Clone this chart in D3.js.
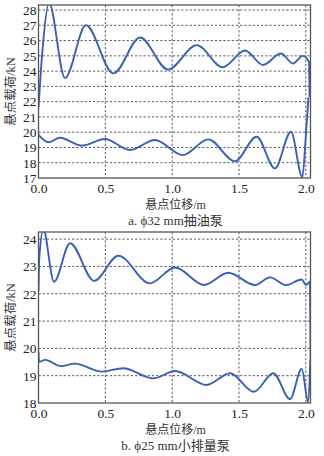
<!DOCTYPE html>
<html>
<head>
<meta charset="utf-8">
<script src="https://cdn.jsdelivr.net/npm/d3@7"></script>
<style>
  body { margin: 0; background: #fff; }
  svg { display: block; }
  .lbl { font-family: "Liberation Serif", "Noto Sans CJK SC", serif; font-size: 12px; fill: #333; }
</style>
</head>
<body>
<svg width="324" height="456"></svg>
<script>
// panel a: phi 32 mm pump
const aUpX = [0, 0.03, 0.079, 0.198, 0.355, 0.56, 0.76, 0.969, 1.184, 1.378, 1.545, 1.68, 1.814, 1.904, 1.977, 2.024, 2.028];
const aUpY = [21.6, 25.4, 28.45, 23.55, 27.0, 23.85, 26.2, 24.1, 25.7, 24.25, 25.35, 24.4, 25.15, 24.5, 25.0, 24.6, 22.3];
const aLoX = [0, 0.075, 0.16, 0.323, 0.497, 0.684, 0.871, 1.079, 1.27, 1.47, 1.632, 1.769, 1.889, 1.974, 2.001, 2.02];
const aLoY = [19.82, 19.34, 19.64, 19.12, 19.55, 18.83, 19.49, 18.5, 19.53, 18.1, 19.7, 17.63, 20.03, 17.05, 19.9, 22.3];
const aTicksY = [17, 18, 19, 20, 21, 22, 23, 24, 25, 26, 27, 28];

// panel b: phi 25 mm small pump
const bUpX = [0, 0.006, 0.036, 0.116, 0.236, 0.417, 0.597, 0.834, 1.021, 1.24, 1.42, 1.62, 1.732, 1.852, 1.969, 2.001, 2.031, 2.036];
const bUpY = [22.1, 23.3, 24.35, 22.44, 23.85, 22.47, 23.39, 22.38, 22.96, 22.32, 22.77, 22.32, 22.6, 22.32, 22.52, 22.32, 22.44, 19.6];
const bLoX = [0, 0.004, 0.05, 0.168, 0.273, 0.473, 0.634, 0.859, 1.021, 1.258, 1.433, 1.612, 1.757, 1.882, 1.969, 2.018, 2.034];
const bLoY = [19.88, 19.51, 19.58, 19.35, 19.44, 19.15, 19.27, 18.9, 19.17, 18.66, 19.09, 18.41, 19.09, 18.14, 19.25, 18.03, 19.6];
const bTicksY = [18, 19, 20, 21, 22, 23, 24];

const ticksX = [0, 0.5, 1.0, 1.5, 2.0];
const xTitle = "悬点位移/m";
const yTitle = "悬点载荷/kN";

const svg = d3.select("svg");
const blue = "#3a60b6";
const numFont = '"Liberation Serif", "DejaVu Serif", serif';

function panel(id, top, bottom, yDom, yTicks, series, caption) {
  const x = d3.scaleLinear().domain([0, 2.035]).range([38.5, 310.5]);
  const y = d3.scaleLinear().domain(yDom).range([bottom, top]);
  const g = svg.append("g");

  // grid
  g.append("g")
    .selectAll("line")
    .data(yTicks.filter(t => y(t) > top + 1 && y(t) < bottom - 1))
    .enter().append("line")
    .attr("x1", x.range()[0]).attr("x2", x.range()[1])
    .attr("y1", d => y(d)).attr("y2", d => y(d))
    .attr("stroke", "#444").attr("stroke-width", 0.9)
    .attr("stroke-dasharray", "2.2,2");
  g.append("g")
    .selectAll("line")
    .data(ticksX.filter(t => t > 0))
    .enter().append("line")
    .attr("x1", d => x(d)).attr("x2", d => x(d))
    .attr("y1", top).attr("y2", bottom)
    .attr("stroke", "#444").attr("stroke-width", 0.9)
    .attr("stroke-dasharray", "2.2,2");

  // curves, clipped to plot box
  g.append("clipPath").attr("id", id)
    .append("rect")
    .attr("x", x.range()[0]).attr("y", top)
    .attr("width", x.range()[1] - x.range()[0]).attr("height", bottom - top);
  const line = d3.line()
    .x(d => x(d[0])).y(d => y(d[1]))
    .curve(d3.curveMonotoneX);
  g.append("g").attr("clip-path", `url(#${id})`)
    .selectAll("path")
    .data(series)
    .enter().append("path")
    .attr("d", s => line(d3.zip(s[0], s[1])))
    .attr("fill", "none")
    .attr("stroke", blue)
    .attr("stroke-width", 1.9)
    .attr("stroke-linejoin", "round");

  // frame
  g.append("rect")
    .attr("x", x.range()[0]).attr("y", top)
    .attr("width", x.range()[1] - x.range()[0]).attr("height", bottom - top)
    .attr("fill", "none").attr("stroke", "#555").attr("stroke-width", 1.3);

  // axes labels
  const ax = g.append("g").attr("transform", `translate(0,${bottom})`)
    .call(d3.axisBottom(x).tickValues(ticksX).tickFormat(d3.format(".1f")).tickSize(0).tickPadding(5));
  ax.select(".domain").remove();
  const ay = g.append("g").attr("transform", `translate(${x.range()[0]},0)`)
    .call(d3.axisLeft(y).tickValues(yTicks).tickFormat(d3.format("d")).tickSize(0).tickPadding(2));
  ay.select(".domain").remove();
  g.selectAll(".tick text")
    .attr("font-family", numFont).attr("font-size", 13.5).attr("fill", "#222");
  ax.attr("font-family", numFont).attr("font-size", 13.5);
  ay.attr("font-family", numFont).attr("font-size", 13.5);

  const cx = (x.range()[0] + x.range()[1]) / 2 + 1;
  g.append("text").attr("class", "lbl")
    .attr("x", cx).attr("y", bottom + 30.5)
    .attr("text-anchor", "middle").text(xTitle);
  g.append("text").attr("class", "lbl")
    .attr("x", cx).attr("y", bottom + 46.5)
    .attr("text-anchor", "middle").style("font-size", "13px").text(caption);
  g.append("text").attr("class", "lbl")
    .attr("transform", `translate(15,${(top + bottom) / 2}) rotate(-90)`)
    .attr("text-anchor", "middle").style("font-size", "12.5px").text(yTitle);
}

panel("ca", 5, 178, [17, 28.33], aTicksY, [[aUpX, aUpY], [aLoX, aLoY]], "a. ϕ32 mm抽油泵");
panel("cb", 232, 403, [18, 24.26], bTicksY, [[bUpX, bUpY], [bLoX, bLoY]], "b. ϕ25 mm小排量泵");
</script>
</body>
</html>
